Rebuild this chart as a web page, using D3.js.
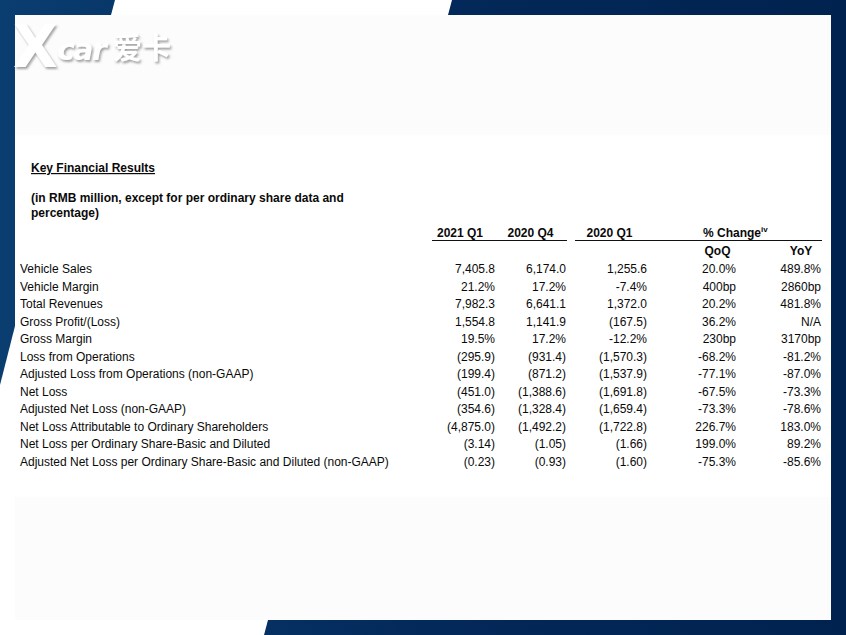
<!DOCTYPE html>
<html>
<head>
<meta charset="utf-8">
<script src="https://cdn.jsdelivr.net/npm/d3@7"></script>
<style>
  html, body { margin: 0; padding: 0; background: #fff; }
  svg { display: block; }
  text { font-family: "Liberation Sans", Arial, Helvetica, sans-serif; fill: #0a0a0a; }
</style>
</head>
<body>
<svg id="chart" width="846" height="635"></svg>
<script>
// ---- data ----
const title = "Key Financial Results";
const subtitleLines = ["(in RMB million, except for per ordinary share data and", "percentage)"];
const columns = ["2021 Q1", "2020 Q4", "2020 Q1", "QoQ", "YoY"];
const groupHeader = "% Change";
const groupHeaderSup = "iv";
const categories = [
  "Vehicle Sales",
  "Vehicle Margin",
  "Total Revenues",
  "Gross Profit/(Loss)",
  "Gross Margin",
  "Loss from Operations",
  "Adjusted Loss from Operations (non-GAAP)",
  "Net Loss",
  "Adjusted Net Loss (non-GAAP)",
  "Net Loss Attributable to Ordinary Shareholders",
  "Net Loss per Ordinary Share-Basic and Diluted",
  "Adjusted Net Loss per Ordinary Share-Basic and Diluted (non-GAAP)"
];
const q1_2021 = ["7,405.8", "21.2%", "7,982.3", "1,554.8", "19.5%", "(295.9)", "(199.4)", "(451.0)", "(354.6)", "(4,875.0)", "(3.14)", "(0.23)"];
const q4_2020 = ["6,174.0", "17.2%", "6,641.1", "1,141.9", "17.2%", "(931.4)", "(871.2)", "(1,388.6)", "(1,328.4)", "(1,492.2)", "(1.05)", "(0.93)"];
const q1_2020 = ["1,255.6", "-7.4%", "1,372.0", "(167.5)", "-12.2%", "(1,570.3)", "(1,537.9)", "(1,691.8)", "(1,659.4)", "(1,722.8)", "(1.66)", "(1.60)"];
const qoq = ["20.0%", "400bp", "20.2%", "36.2%", "230bp", "-68.2%", "-77.1%", "-67.5%", "-73.3%", "226.7%", "199.0%", "-75.3%"];
const yoy = ["489.8%", "2860bp", "481.8%", "N/A", "3170bp", "-81.2%", "-87.0%", "-73.3%", "-78.6%", "183.0%", "89.2%", "-85.6%"];
const seriesValues = [q1_2021, q4_2020, q1_2020, qoq, yoy];

// ---- drawing ----
const svg = d3.select("#chart");
const W = 846, H = 635;

const defs = svg.append("defs");
const grad = defs.append("linearGradient").attr("id", "navy").attr("x1", "0").attr("x2", "1").attr("y1", "0").attr("y2", "0");
grad.append("stop").attr("offset", "0").attr("stop-color", "#0a3d70");
grad.append("stop").attr("offset", "0.5").attr("stop-color", "#03295a");
grad.append("stop").attr("offset", "1").attr("stop-color", "#00224f");
const shadow = defs.append("filter").attr("id", "shadow").attr("x", "-20%").attr("y", "-20%").attr("width", "140%").attr("height", "150%");
shadow.append("feDropShadow").attr("dx", 1.5).attr("dy", 2).attr("stdDeviation", 1.2).attr("flood-color", "#8a8a8a").attr("flood-opacity", 0.8);

// frame background
svg.append("rect").attr("width", W).attr("height", H).attr("fill", "url(#navy)");
svg.append("polygon").attr("points", "115,0 452,0 448,15 111,15").attr("fill", "#fff");
svg.append("polygon").attr("points", "15,326 15,635 0,635 0,385").attr("fill", "#fff");
svg.append("polygon").attr("points", "0,620 268,620 264,635 0,635").attr("fill", "#fff");
svg.append("rect").attr("x", 15).attr("y", 15).attr("width", 816).attr("height", 605).attr("fill", "#fff");
svg.append("rect").attr("x", 15).attr("y", 15).attr("width", 816).attr("height", 120).attr("fill", "#fcfcfc");
svg.append("rect").attr("x", 15).attr("y", 497).attr("width", 816).attr("height", 123).attr("fill", "#fcfcfc");

// logo
const logo = svg.append("g").attr("filter", "url(#shadow)");
logo.append("text").attr("x", 13).attr("y", 67).attr("font-size", 58).attr("font-weight", "bold")
  .style("font-family", "'DejaVu Sans', sans-serif").style("fill", "#fff").text("X");
logo.append("text").attr("x", 57).attr("y", 60).attr("font-size", 30).attr("font-weight", "bold")
  .attr("font-style", "italic").attr("letter-spacing", -1.5).style("font-family", "'DejaVu Sans', sans-serif")
  .style("fill", "#fff").text("car");
logo.append("text").attr("x", 113).attr("y", 59).attr("font-size", 29).attr("font-weight", "bold")
  .style("font-family", "'Noto Sans CJK SC', sans-serif").style("fill", "#fff").text("爱卡");

// titles
svg.append("text").attr("x", 31).attr("y", 172).attr("font-size", 12).attr("font-weight", "bold")
  .attr("text-decoration", "underline").text(title);
svg.append("g").selectAll("text").data(subtitleLines).join("text")
  .attr("x", 31).attr("y", (d, i) => 202 + i * 15).attr("font-size", 12).attr("font-weight", "bold").text(d => d);

// scales
const y = d3.scaleBand().domain(categories).range([260.25, 470.25]).padding(0);
const xRight = d3.scaleOrdinal().domain(columns).range([495, 566, 647, 736, 821]);
const xHeader = d3.scaleOrdinal().domain(columns).range([460, 530.5, 609.5, 717.5, 801]);
const headerY = d3.scaleOrdinal().domain(columns).range([237, 237, 237, 255, 255]);

// headers
svg.append("g").selectAll("text").data(columns).join("text")
  .attr("x", d => xHeader(d)).attr("y", d => headerY(d)).attr("text-anchor", "middle")
  .attr("font-size", 12).attr("font-weight", "bold").text(d => d);
const gh = svg.append("text").attr("x", 703).attr("y", 237).attr("font-size", 12).attr("font-weight", "bold");
gh.append("tspan").text(groupHeader);
gh.append("tspan").attr("dy", -5).attr("font-size", 8).text(groupHeaderSup);

// header rules
svg.append("line").attr("x1", 432).attr("x2", 567).attr("y1", 240.5).attr("y2", 240.5).attr("stroke", "#111").attr("stroke-width", 1);
svg.append("line").attr("x1", 575).attr("x2", 822).attr("y1", 240.5).attr("y2", 240.5).attr("stroke", "#111").attr("stroke-width", 1);

// row labels
svg.append("g").selectAll("text").data(categories).join("text")
  .attr("x", 20).attr("y", d => y(d) + y.bandwidth() / 2 + 4.2)
  .attr("font-size", 12).text(d => d);

// cells
const cells = [];
columns.forEach((c, ci) => seriesValues[ci].forEach((v, ri) => cells.push({ col: c, row: categories[ri], v })));
svg.append("g").selectAll("text").data(cells).join("text")
  .attr("x", d => xRight(d.col)).attr("y", d => y(d.row) + y.bandwidth() / 2 + 4.2)
  .attr("text-anchor", "end").attr("font-size", 12).text(d => d.v);
</script>
</body>
</html>
